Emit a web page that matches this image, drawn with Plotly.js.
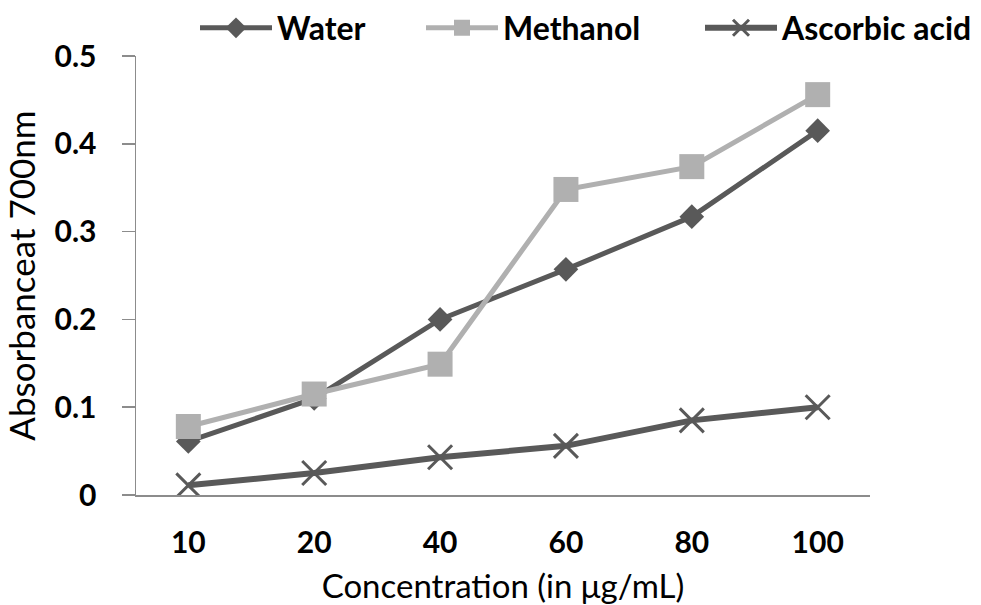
<!DOCTYPE html>
<html>
<head>
<meta charset="utf-8">
<script src="https://cdn.plot.ly/plotly-3.0.1.min.js"></script>
<style>body{margin:0;background:#fff;} #chart{width:981px;height:605px;}</style>
</head>
<body>
<div id="chart"></div>
<script>
const categories = ["10", "20", "40", "60", "80", "100"];
const water = [0.061, 0.110, 0.200, 0.257, 0.317, 0.415];
const methanol = [0.078, 0.115, 0.149, 0.348, 0.374, 0.456];
const ascorbic = [0.011, 0.025, 0.043, 0.056, 0.085, 0.100];
const seriesNames = ["Water", "Methanol", "Ascorbic acid"];
const yTicks = [0, 0.1, 0.2, 0.3, 0.4, 0.5];
const yTickText = ["0", "0.1", "0.2", "0.3", "0.4", "0.5"];

const dark = "#595959", light = "#b0b0b0", axisCol = "#8c8c8c";
const FONT = "Lato, 'Open Sans', sans-serif";

const traces = [
  {x: categories, y: water, name: seriesNames[0], type: "scatter", mode: "lines+markers", legend: "legend",
   line: {color: dark, width: 5}, marker: {symbol: "diamond", size: 19, color: dark}},
  {x: categories, y: methanol, name: seriesNames[1], type: "scatter", mode: "lines+markers", legend: "legend2",
   line: {color: light, width: 5}, marker: {symbol: "square", size: 25, color: light}},
  {x: categories, y: ascorbic, name: seriesNames[2], type: "scatter", mode: "lines+markers", legend: "legend3",
   line: {color: dark, width: 6}, marker: {symbol: "x-thin", size: 24, color: dark, line: {color: dark, width: 3}}}
];

function legendAt(px) {
  return {orientation: "h", xref: "container", yref: "container", x: px / 981, xanchor: "left",
          y: 1 - 28/605, yanchor: "middle", font: {family: FONT, size: 32, weight: "bold"}, itemwidth: 72,
          bgcolor: "rgba(0,0,0,0)", borderwidth: 0};
}

const layout = {
  width: 981, height: 605,
  margin: {l: 136, r: 111, t: 56, b: 110},
  paper_bgcolor: "#fff", plot_bgcolor: "#fff",
  font: {family: FONT, color: "#000"},
  showlegend: true,
  legend: legendAt(195),
  legend2: legendAt(421),
  legend3: legendAt(700),
  xaxis: {
    type: "category", categoryorder: "array", categoryarray: categories, automargin: false,
    showline: true, linecolor: axisCol, linewidth: 1.5, ticks: "", showgrid: false, zeroline: false,
    tickfont: {family: FONT, size: 30, weight: "bold"}, ticklabelstandoff: 20,
    title: {text: "Concentration (in μg/mL)", font: {family: FONT, size: 33}, standoff: 26}
  },
  yaxis: {
    range: [0, 0.5], tickvals: yTicks, ticktext: yTickText, automargin: false,
    showline: true, linecolor: axisCol, linewidth: 1.5, ticks: "outside", ticklen: 13, tickcolor: axisCol, tickwidth: 1.5,
    showgrid: false, zeroline: false,
    tickfont: {family: FONT, size: 30, weight: "bold"}, ticklabelstandoff: 19,
    title: {text: "Absorbanceat 700nm", font: {family: FONT, size: 35}, standoff: 8}
  }
};

Plotly.newPlot("chart", traces, layout, {displayModeBar: false, staticPlot: true});
</script>
</body>
</html>
